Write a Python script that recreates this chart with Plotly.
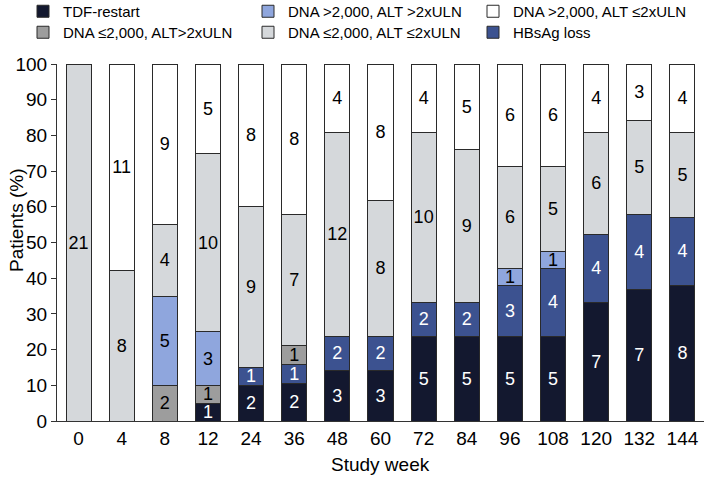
import plotly.graph_objects as go

weeks = ["0", "4", "8", "12", "24", "36", "48", "60", "72", "84", "96", "108", "120", "132", "144"]

# patient counts per category at each study week
tdf_restart = [0, 0, 0, 1, 2, 2, 3, 3, 5, 5, 5, 5, 7, 7, 8]
hbsag_loss = [0, 0, 0, 0, 1, 1, 2, 2, 2, 2, 3, 4, 4, 4, 4]
dna_low_alt_high = [0, 0, 2, 1, 0, 1, 0, 0, 0, 0, 0, 0, 0, 0, 0]
dna_high_alt_high = [0, 0, 5, 3, 0, 0, 0, 0, 0, 0, 1, 1, 0, 0, 0]
dna_low_alt_low = [21, 8, 4, 10, 9, 7, 12, 8, 10, 9, 6, 5, 6, 5, 5]
dna_high_alt_low = [0, 11, 9, 5, 8, 8, 4, 8, 4, 5, 6, 6, 4, 3, 4]

# name, counts, fill, label colour, legend row, rank in row
series = [
    ("TDF-restart", tdf_restart, "#13182f", "white", "legend", 1),
    ("HBsAg loss", hbsag_loss, "#3c5290", "white", "legend2", 3),
    ("DNA ≤2,000, ALT>2xULN", dna_low_alt_high, "#9d9d9d", "black", "legend2", 1),
    ("DNA >2,000, ALT >2xULN", dna_high_alt_high, "#8fa6dd", "black", "legend", 2),
    ("DNA ≤2,000, ALT ≤2xULN", dna_low_alt_low, "#d5d8db", "black", "legend2", 2),
    ("DNA >2,000, ALT ≤2xULN", dna_high_alt_low, "#ffffff", "black", "legend", 3),
]

totals = [sum(s[1][i] for s in series) for i in range(len(weeks))]

fig = go.Figure()
for name, counts, color, tcolor, leg, rank in series:
    pct = [c / t * 100 if c else 0 for c, t in zip(counts, totals)]
    fig.add_trace(go.Bar(
        x=weeks,
        y=pct,
        name=name,
        text=[str(c) if c else "" for c in counts],
        textposition="inside",
        insidetextanchor="middle",
        textangle=0,
        textfont=dict(color=tcolor, size=18, family="Liberation Sans, Arial"),
        marker=dict(color=color, line=dict(color="#2a2a2a", width=1)),
        legend=leg,
        legendrank=rank,
        cliponaxis=False,
    ))

# the plot region covers the whole page (minus bottom/right strips) so the
# legend rows can use the full width; axes are placed with domains instead
W, H = 709, 482
gw, gh = W - 5, H - 61

legend_style = dict(
    orientation="h",
    traceorder="normal",
    x=23 / gw,
    xanchor="left", yanchor="top",
    entrywidth=180,
    font=dict(size=15, color="black"),
    itemwidth=30,
    bgcolor="rgba(0,0,0,0)",
)

fig.update_layout(
    barmode="stack",
    bargap=0.42,
    width=W,
    height=H,
    margin=dict(l=0, r=5, t=0, b=61, autoexpand=False),
    plot_bgcolor="white",
    paper_bgcolor="white",
    font=dict(family="Liberation Sans, Arial", size=19, color="black"),
    uniformtext=dict(minsize=18, mode="show"),
    legend=dict(legend_style, y=1 + 5 / gh),
    legend2=dict(legend_style, y=1 - 16 / gh),
    xaxis=dict(
        domain=[57 / gw, 1],
        automargin=False,
        tickangle=0,
        showline=True,
        linecolor="#333",
        linewidth=1,
        ticks="",
        showgrid=False,
    ),
    yaxis=dict(
        domain=[0, 357 / gh],
        automargin=False,
        range=[0, 100],
        dtick=10,
        showline=True,
        linecolor="#333",
        linewidth=1,
        ticks="outside",
        ticklen=5,
        tickcolor="#333",
        showgrid=False,
        zeroline=False,
    ),
    annotations=[
        dict(text="Patients (%)", textangle=-90, xref="paper", yref="paper",
             x=16 / gw, y=1 - 221 / gh, xanchor="center", yanchor="middle",
             showarrow=False, font=dict(size=19)),
        dict(text="Study week", xref="paper", yref="paper",
             x=380 / gw, y=1 - 465 / gh, xanchor="center", yanchor="middle",
             showarrow=False, font=dict(size=19)),
    ],
)

# page body has an 8px default margin; drop it so the figure fills the window
fig.write_html(
    "out.html",
    config={"displayModeBar": False},
    post_script="document.body.style.margin='0';",
)
